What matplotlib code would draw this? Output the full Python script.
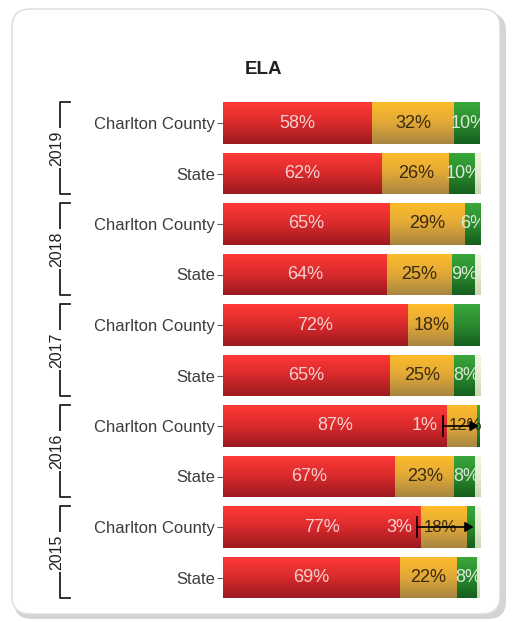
import numpy as np
import matplotlib
matplotlib.use("Agg")
import matplotlib.pyplot as plt
from matplotlib.colors import LinearSegmentedColormap
from matplotlib.patches import FancyBboxPatch
from matplotlib import transforms

plt.rcParams['font.family'] = ['Liberation Sans', 'DejaVu Sans']

# rows from top to bottom
years = ['2019', '2018', '2017', '2016', '2015']
entities = ['Charlton County', 'State'] * 5
red = [58, 62, 65, 64, 72, 65, 87, 67, 77, 69]
orange = [32, 26, 29, 25, 18, 25, 12, 23, 18, 22]
green = [10, 10, 6, 9, 10, 8, 1, 8, 3, 8]
light = [0, 2, 0, 2, 0, 2, 0, 2, 2, 1]
green_shown = [True, True, True, True, False, True, False, True, False, True]

W, H = 513, 623
fig = plt.figure(figsize=(W / 100, H / 100), dpi=100)
fig.patch.set_facecolor('white')

# card with shadow
shadow = FancyBboxPatch((14 / W, 4 / H), 492 / W, 606 / H,
                        boxstyle="round,pad=0,rounding_size=0.035",
                        transform=fig.transFigure, facecolor='#d4d4d4',
                        edgecolor='none', zorder=0, mutation_aspect=W / H)
card = FancyBboxPatch((12 / W, 9 / H), 488 / W, 605 / H,
                      boxstyle="round,pad=0,rounding_size=0.035",
                      transform=fig.transFigure, facecolor='white',
                      edgecolor='#dcdcdc', lw=1, zorder=1, mutation_aspect=W / H)
fig.patches.extend([shadow, card])

ax = fig.add_axes([223 / W, 1 - 602.75 / H, 257 / W, 505 / H])
ax.set_zorder(2)
ax.patch.set_alpha(0)

n = len(entities)
ypos = np.arange(n)[::-1]
bh = 0.83

segments = [
    (red, ['#9c1a1f', '#d92a2c', '#ff3a36']),
    (orange, ['#a88540', '#e0a838', '#ffbc2a']),
    (green, ['#155f1e', '#2a8a2e', '#3aa83c']),
    (light, ['#c9d6b0', '#e4ecd0', '#f2f6e0']),
]

left = np.zeros(n)
for vals, cols in segments:
    vals = np.array(vals, dtype=float)
    bars = ax.barh(ypos, vals, left=left, height=bh, color=cols[1],
                   edgecolor='none', zorder=2)
    cmap = LinearSegmentedColormap.from_list('g', cols)
    grad = np.linspace(0, 1, 64).reshape(-1, 1)
    for b in bars:
        if b.get_width() <= 0:
            continue
        x0, y0 = b.get_x(), b.get_y()
        im = ax.imshow(grad, extent=[x0, x0 + b.get_width(), y0, y0 + b.get_height()],
                       origin='lower', cmap=cmap, aspect='auto', zorder=3,
                       interpolation='bilinear')
        im.set_clip_path(b)
    left += vals

fs = 13
for i in range(n):
    y = ypos[i]
    r, o, g = red[i], orange[i], green[i]
    ax.text(r / 2, y, f'{r}%', ha='center', va='center', color='#f6d0d0',
            fontsize=fs, zorder=5, clip_on=True)
    if g >= 5:
        ax.text(r + o / 2, y, f'{o}%', ha='center', va='center', color='#3a2a10',
                fontsize=fs, zorder=5, clip_on=True)
        if green_shown[i]:
            ax.text(r + o + g / 2 + 0.5, y, f'{g}%', ha='center', va='center',
                    color='#dcebd6', fontsize=fs, zorder=5, clip_on=True)
    else:
        # crowded small segments: label pushed left with leader arrow
        ax.text(r - 3.5, y, f'{g}%', ha='right', va='center', color='#f6d0d0',
                fontsize=fs, zorder=5)
        ax.text(r + 1, y, f'{o}%', ha='left', va='center', color='#3a2a10',
                fontsize=fs - 1, zorder=5)
        ax.plot([r - 1.5, r - 1.5], [y - 0.2, y + 0.2], color='black', lw=1.2, zorder=6)
        ax.annotate('', xy=(r + o + g - 0.5, y), xytext=(r - 1.5, y),
                    arrowprops=dict(arrowstyle='-|>,head_length=0.5,head_width=0.3',
                                    color='black', lw=1.2, shrinkA=0, shrinkB=0),
                    zorder=6)

ax.set_xlim(0, 100)
ax.set_ylim(-0.5, n - 0.5)
ax.set_yticks(ypos, entities)
ax.tick_params(axis='y', length=4, color='#606060', labelsize=12,
               labelcolor='#3c3c3c', pad=2)
ax.set_xticks([])
for s in ax.spines.values():
    s.set_visible(False)

# year brackets
trans = transforms.blended_transform_factory(fig.transFigure, ax.transData)
xl, xr = 60 / W, 70 / W
for k, yr in enumerate(years):
    top = ypos[2 * k] + bh / 2
    bot = ypos[2 * k + 1] - bh / 2
    ax.plot([xr, xl, xl, xr], [top, top, bot, bot], color='#202020', lw=1.3,
            transform=trans, clip_on=False, zorder=4)
    ax.text(57 / W, (top + bot) / 2, yr, rotation=90, ha='center', va='center',
            fontsize=11.5, color='#202020', transform=trans, zorder=5,
            bbox=dict(facecolor='white', edgecolor='none', pad=1.5))

fig.text(263 / W, 1 - 70 / H, 'ELA', ha='center', va='center', fontsize=13.5,
         fontweight='bold', color='#202020', zorder=3)

fig.savefig('out.png', dpi=100, facecolor='white')
